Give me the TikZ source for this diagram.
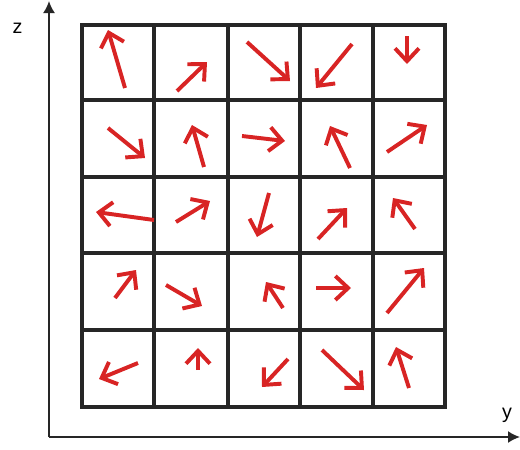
\documentclass[tikz,border=0pt]{standalone}
\usepackage{fontspec}
\setmainfont{Liberation Sans}
\usetikzlibrary{arrows.meta}
\definecolor{vecred}{RGB}{216,36,36}
\begin{document}
\begin{tikzpicture}[x=0.025cm, y=-0.025cm, >={Straight Barb[length=3.2mm,width=6mm]},
  vec/.style={->, line width=2.8pt, vecred},
  cell/.style={line width=2.4pt, black!85},
  axis/.style={line width=1.3pt, black!85, -{Latex[length=3mm,width=3mm]}},
  lbl/.style={anchor=base, font=\fontsize{14}{16}\selectfont}]
\useasboundingbox (0,0) rectangle (520,449);
% axes
\coordinate (O) at (49,437);
\coordinate (ztip) at (49,1);
\coordinate (ytip) at (520,437);
\draw[axis] (O) -- (ztip);
\draw[axis] (O) -- (ytip);
\node[lbl] (zlbl) at (17.5,33) {z};
\node[lbl] (ylbl) at (507,418) {y};
% grid
\draw[cell] (82,25) rectangle (445,407);
\draw[cell] (154,25) -- (154,407) (228,25) -- (228,407) (300,25) -- (300,407) (373,25) -- (373,407);
\draw[cell] (82,100) -- (445,100) (82,177) -- (445,177) (82,253) -- (445,253) (82,330) -- (445,330);
% row 1
\draw[vec] (125,88) -- (108,30);
\draw[vec] (177,91) -- (207,62);
\draw[vec] (247,42) -- (290,81);
\draw[vec] (352,44) -- (316,88);
\draw[vec] (407,36) -- (407,64);
% row 2
\draw[vec] (108,128) -- (145,158);
\draw[vec] (204,167) -- (192,125);
\draw[vec] (242,136) -- (285,141);
\draw[vec] (350,168) -- (330,126);
\draw[vec] (387,152) -- (427,125);
% row 3
\draw[vec] (154,220) -- (96,212);
\draw[vec] (176,222) -- (210,201);
\draw[vec] (269,193) -- (257,237);
\draw[vec] (318,239) -- (347,208);
\draw[vec] (415,229) -- (393,198);
% row 4
\draw[vec] (115,298) -- (136,270);
\draw[vec] (166,285) -- (202,306);
\draw[vec] (283,308) -- (266,282);
\draw[vec] (316,288) -- (351,288);
\draw[vec] (387,313) -- (424,268);
% row 5
\draw[vec] (138,363) -- (99,379);
\draw[vec] (198,370) -- (198,348);
\draw[vec] (288,359) -- (262,387);
\draw[vec] (322,350) -- (364,390);
\draw[vec] (409,388) -- (396,347);
\end{tikzpicture}
\end{document}
